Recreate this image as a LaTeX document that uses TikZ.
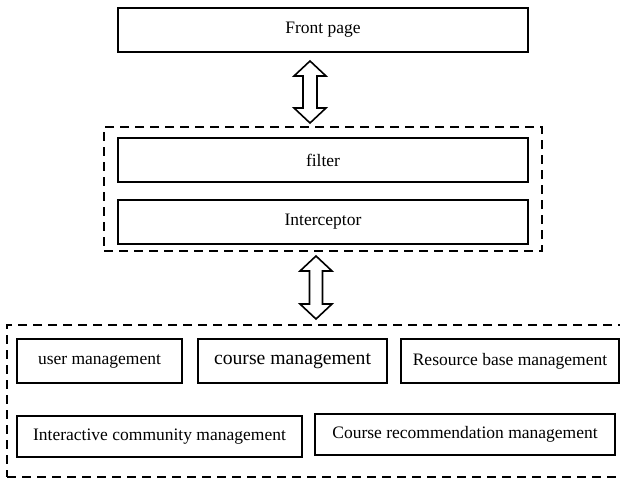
\documentclass[tikz,border=0pt]{standalone}
\usepackage{fontspec}
\setmainfont{Liberation Serif}
\usetikzlibrary{calc}
\tikzset{
  box/.style={draw, line width=1.6pt, inner sep=0pt, font=\fontsize{17.5}{20}\selectfont},
  dashbox/.style={draw, line width=2pt, dash pattern=on 9pt off 6pt, inner sep=0pt},
  arrowshape/.style={draw, line width=1.6pt, fill=white, line join=miter},
}
\newcommand\dblarrow[4]{% top, bottom, half head width, shaft half width; head length 14/16
  \draw[arrowshape] (#1) -- ++(#3,15) -- ++(-#3+#4,0) -- ($(#2)+(#4,-15)$) -- ++(#3-#4,0) -- (#2)
    -- ++(-#3,-15) -- ++(#3-#4,0) -- ($(#1)+(-#4,15)$) -- ++(-#3+#4,0) -- cycle;}
\begin{document}
\begin{tikzpicture}[x=1pt,y=-1pt]
\useasboundingbox[fill=white] (0,0) rectangle (620,479);
% top
\node[box, minimum width=410pt, minimum height=44pt] (front) at (323,30) {Front page};
% middle dashed group
\node[dashbox, minimum width=438pt, minimum height=124pt] (mid) at (323,189) {};
\node[box, minimum width=410pt, minimum height=44pt] (filter) at (323,160) {filter};
\node[box, minimum width=410pt, minimum height=44pt] (inter) at (323,222) {Interceptor};
% bottom dashed group
\node[dashbox, minimum width=624pt, minimum height=152pt] (low) at (319,401) {};
\node[box, minimum width=165pt, minimum height=44pt] (user) at (99.5,361) {user management};
\node[box, minimum width=189pt, minimum height=44pt, font=\fontsize{19.7}{22}\selectfont] (course) at (292.5,361) {course management};
\node[box, minimum width=218pt, minimum height=44pt] (res) at (510,361) {Resource base management};
\node[box, minimum width=285pt, minimum height=41pt] (comm) at (159.5,436.5) {Interactive community management};
\node[box, minimum width=300pt, minimum height=41pt] (rec) at (465,434.5) {Course recommendation management};
% arrows
\coordinate (a1t) at (310,61);
\coordinate (a1b) at (310,123);
\coordinate (a2t) at (316,256);
\coordinate (a2b) at (316,319);
\dblarrow{a1t}{a1b}{16}{7}
\dblarrow{a2t}{a2b}{16}{6.5}
\end{tikzpicture}
\end{document}
